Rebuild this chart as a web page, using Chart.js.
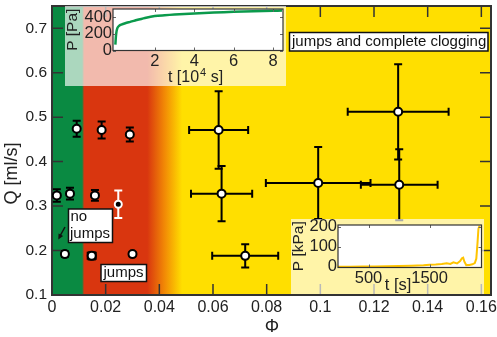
<!DOCTYPE html>
<html><head><meta charset="utf-8">
<script src="https://cdn.jsdelivr.net/npm/chart.js@4.4.0/dist/chart.umd.min.js"></script>
<style>
html,body{margin:0;padding:0;background:#fff;}
#wrap{position:relative;width:497px;height:337px;overflow:hidden;}
canvas{position:absolute;}
</style></head><body>
<div id="wrap">
<canvas id="main" width="497" height="337" style="left:0;top:0"></canvas>
<canvas id="ins1" width="221" height="80" style="left:65px;top:6px"></canvas>
<canvas id="ins2" width="193" height="75" style="left:291px;top:219px"></canvas>
</div>
<script>
// ---------- data ----------
const phi    = [0.0018, 0.0067, 0.0160, 0.0048, 0.0148, 0.0300, 0.0092, 0.0185, 0.0290, 0.0621, 0.0632, 0.0720, 0.0992, 0.1294, 0.1290];
const flowQ  = [0.324,  0.328,  0.324,  0.192,  0.188,  0.192,  0.474,  0.471,  0.461,  0.471,  0.328,  0.188,  0.352,  0.348,  0.512];
const phiErr = [0,      0,      0,      0.0010, 0.0015, 0,      0,      0,      0,      0.0110, 0.0114, 0.0123, 0.0195, 0.0143, 0.0188];
const qErr   = [0.014,  0.013,  0.012,  0.004,  0.008,  0.004,  0.018,  0.019,  0.016,  0.087,  0.062,  0.026,  0.081,  0.080,  0.107];
const refPhi = [0.0247];
const refQ   = [0.304];
const refQErr = [0.031];
const xTicks = [0, 0.02, 0.04, 0.06, 0.08, 0.10, 0.12, 0.14, 0.16];
const yTicks = [0.1, 0.2, 0.3, 0.4, 0.5, 0.6, 0.7];
const regimeGreenEnd = 0.0116, regimeRedEnd = 0.0355, regimeYellowStart = 0.0485;
// inset 1: P [Pa] vs t [10^4 s]
const ins1T = [0, 0.04, 0.1, 0.2, 0.3, 0.5, 0.75, 1, 1.5, 2, 2.5, 3, 4, 5, 6, 7, 8, 8.45];
const ins1P = [70, 200, 270, 300, 312, 328, 345, 362, 392, 415, 425, 433, 447, 457, 466, 473, 479, 481];
const ins1XTicks = [2, 4, 6, 8];
const ins1YTicks = [0, 200, 400];
// inset 2: P [kPa] vs t [s]
const ins2T = [0, 200, 400, 600, 800, 1000, 1200, 1400, 1500, 1600, 1700, 1780, 1840, 1890, 1950, 2000, 2030, 2050, 2070, 2100, 2150, 2200, 2240, 2265, 2285, 2300, 2320];
const ins2P = [0, 0, 1, 1, 2, 3, 5, 7, 10, 11, 13, 17, 14, 22, 16, 28, 42, 45, 25, 8, 9, 12, 18, 40, 120, 190, 205];
const ins2XTicks = [500, 1500];
const ins2YTicks = [0, 100, 200];

const FONT = "'Liberation Sans', Arial, sans-serif";
const fmt = v => String(+(+v).toFixed(2));

function fixTicks(list){ return function(s){ s.ticks = list.map(v => ({value: v})); }; }
function zeroPad(s){ s.paddingTop = 0; s.paddingBottom = 0; s.paddingLeft = 0; s.paddingRight = 0; }

// ---------- main chart plugins ----------
const bgPlugin = {
  id: 'bg',
  beforeDraw(chart){
    const {ctx, chartArea: a, scales: {x}} = chart;
    const g = x.getPixelForValue(regimeGreenEnd), r = x.getPixelForValue(regimeRedEnd), yl = x.getPixelForValue(regimeYellowStart);
    ctx.save();
    const grad = ctx.createLinearGradient(a.left, 0, a.right, 0);
    const w = a.right - a.left;
    const f = p => Math.min(1, Math.max(0, (p - a.left) / w));
    grad.addColorStop(0, '#0a8a42');
    grad.addColorStop(f(g - 1), '#0a8a42');
    grad.addColorStop(f(g + 1), '#d9360f');
    grad.addColorStop(f(r), '#d9360f');
    grad.addColorStop(f((r + yl) / 2), '#f28a05');
    grad.addColorStop(f(yl), '#ffdf00');
    grad.addColorStop(1, '#ffdf00');
    ctx.fillStyle = grad;
    ctx.fillRect(a.left, a.top, w, a.bottom - a.top);
    ctx.restore();
  }
};
const framePlugin = {
  id: 'frame',
  beforeDatasetsDraw(chart){
    const {ctx, chartArea: a, scales: {x, y}} = chart;
    ctx.save();
    ctx.strokeStyle = '#333'; ctx.lineWidth = 1.5;
    ctx.beginPath();
    xTicks.forEach(v => { const p = x.getPixelForValue(v); ctx.moveTo(p, a.bottom); ctx.lineTo(p, a.bottom - 11); ctx.moveTo(p, a.top); ctx.lineTo(p, a.top + 11); });
    yTicks.forEach(v => { const p = y.getPixelForValue(v); ctx.moveTo(a.left, p); ctx.lineTo(a.left + 11, p); ctx.moveTo(a.right, p); ctx.lineTo(a.right - 11, p); });
    ctx.stroke();
    ctx.lineWidth = 2;
    ctx.strokeRect(a.left, a.top, a.right - a.left, a.bottom - a.top);
    ctx.restore();
  }
};
const errPlugin = {
  id: 'err',
  beforeDatasetsDraw(chart){
    const {ctx, scales: {x, y}} = chart;
    chart.data.datasets.forEach(ds => {
      ctx.save();
      ctx.strokeStyle = ds.errColor; ctx.lineWidth = 2;
      ds.data.forEach((p, i) => {
        const px = x.getPixelForValue(p.x), py = y.getPixelForValue(p.y);
        const ex = ds.errX ? ds.errX[i] : 0, ey = ds.errY ? ds.errY[i] : 0;
        ctx.beginPath();
        if (ey > 0) {
          const t = y.getPixelForValue(p.y + ey), b = y.getPixelForValue(p.y - ey);
          ctx.moveTo(px, t); ctx.lineTo(px, b);
          ctx.moveTo(px - 4, t); ctx.lineTo(px + 4, t);
          ctx.moveTo(px - 4, b); ctx.lineTo(px + 4, b);
        }
        if (ex > 0) {
          const l = x.getPixelForValue(p.x - ex), r = x.getPixelForValue(p.x + ex);
          ctx.moveTo(l, py); ctx.lineTo(r, py);
          ctx.moveTo(l, py - 4); ctx.lineTo(l, py + 4);
          ctx.moveTo(r, py - 4); ctx.lineTo(r, py + 4);
        }
        ctx.stroke();
      });
      ctx.restore();
    });
  }
};
function box(ctx, x0, y0, x1, y1){
  ctx.fillStyle = '#fff'; ctx.fillRect(x0, y0, x1 - x0, y1 - y0);
  ctx.strokeStyle = '#111'; ctx.lineWidth = 1.5; ctx.strokeRect(x0, y0, x1 - x0, y1 - y0);
}
const annoPlugin = {
  id: 'anno',
  afterDraw(chart){
    const ctx = chart.ctx;
    ctx.save();
    ctx.textBaseline = 'alphabetic'; ctx.textAlign = 'left';
    ctx.font = `15px ${FONT}`;
    box(ctx, 289.5, 32.5, 488, 51);
    ctx.fillStyle = '#111'; ctx.fillText('jumps and complete clogging', 292, 46);
    box(ctx, 68.5, 209, 112.5, 242.5);
    ctx.fillStyle = '#111'; ctx.fillText('no', 70.5, 221); ctx.fillText('jumps', 70, 237.5);
    box(ctx, 101, 264.5, 146.5, 281.5);
    ctx.fillStyle = '#111'; ctx.fillText('jumps', 103.5, 277);
    // arrow
    ctx.strokeStyle = '#111'; ctx.lineWidth = 1.5;
    ctx.beginPath(); ctx.moveTo(65, 227); ctx.lineTo(60, 236); ctx.stroke();
    const ang = Math.atan2(239.5 - 227, 58.3 - 65);
    ctx.beginPath();
    ctx.moveTo(58.3, 239.5);
    ctx.lineTo(58.3 - 6 * Math.cos(ang - 0.45), 239.5 - 6 * Math.sin(ang - 0.45));
    ctx.lineTo(58.3 - 6 * Math.cos(ang + 0.45), 239.5 - 6 * Math.sin(ang + 0.45));
    ctx.closePath(); ctx.fillStyle = '#111'; ctx.fill();
    // axis titles
    ctx.fillStyle = '#222';
    ctx.textAlign = 'center'; ctx.textBaseline = 'middle';
    ctx.font = `18px ${FONT}`;
    ctx.save(); ctx.translate(12.5, 173.5); ctx.rotate(-Math.PI / 2); ctx.fillText('Q [ml/s]', 0, 0); ctx.restore();
    ctx.font = `18px ${FONT}`;
    ctx.fillText('Φ', 272, 327);
    ctx.restore();
  }
};

new Chart(document.getElementById('main'), {
  type: 'scatter',
  data: { datasets: [
    { data: phi.map((v, i) => ({x: v, y: flowQ[i]})), errX: phiErr, errY: qErr, errColor: '#000',
      pointRadius: 4, pointBackgroundColor: '#fff', pointBorderColor: '#000', pointBorderWidth: 2 },
    { data: refPhi.map((v, i) => ({x: v, y: refQ[i]})), errY: refQErr, errColor: '#fff',
      pointRadius: 3.5, pointBackgroundColor: '#000', pointBorderColor: '#fff', pointBorderWidth: 2 }
  ]},
  options: {
    responsive: false, animation: false, devicePixelRatio: 1,
    layout: { padding: { top: 4.5, right: 6, left: 0, bottom: 0 } },
    plugins: { legend: { display: false }, tooltip: { enabled: false } },
    scales: {
      x: { type: 'linear', min: 0, max: 0.1636, grid: { display: false, drawTicks: false }, border: { display: false },
        afterBuildTicks: fixTicks(xTicks), afterFit(s){ s.height = 42; zeroPad(s); },
        ticks: { font: { family: FONT, size: 16 }, color: '#222', padding: 3, maxRotation: 0, autoSkip: false, callback: fmt } },
      y: { type: 'linear', min: 0.1, max: 0.75, grid: { display: false, drawTicks: false }, border: { display: false },
        afterBuildTicks: fixTicks(yTicks), afterFit(s){ s.width = 52; zeroPad(s); },
        ticks: { font: { family: FONT, size: 15.5 }, color: '#222', padding: 5, autoSkip: false, callback: fmt } }
    }
  },
  plugins: [bgPlugin, framePlugin, errPlugin, annoPlugin]
});

// ---------- insets ----------
function insetPlugin(xt, yt, drawTitles){
  return {
    id: 'inset',
    beforeDraw(chart){
      const {ctx, chartArea: a, width, height} = chart;
      ctx.save();
      ctx.fillStyle = 'rgba(255,255,255,0.66)'; ctx.fillRect(0, 0, width, height);
      ctx.fillStyle = '#fff'; ctx.fillRect(a.left, a.top, a.right - a.left, a.bottom - a.top);
      ctx.restore();
    },
    afterDatasetsDraw(chart){
      const {ctx, chartArea: a, scales: {x, y}} = chart;
      ctx.save();
      ctx.strokeStyle = '#666'; ctx.lineWidth = 1;
      ctx.beginPath();
      xt.forEach(v => { const p = Math.round(x.getPixelForValue(v)) + 0.5; ctx.moveTo(p, a.bottom); ctx.lineTo(p, a.bottom - 3); ctx.moveTo(p, a.top); ctx.lineTo(p, a.top + 3); });
      yt.forEach(v => { const p = Math.round(y.getPixelForValue(v)) + 0.5; ctx.moveTo(a.left, p); ctx.lineTo(a.left + 3, p); ctx.moveTo(a.right, p); ctx.lineTo(a.right - 3, p); });
      ctx.stroke();
      ctx.strokeStyle = '#333'; ctx.lineWidth = 1.2;
      ctx.strokeRect(a.left, a.top, a.right - a.left, a.bottom - a.top);
      ctx.restore();
    },
    afterDraw(chart){ const ctx = chart.ctx; ctx.save(); ctx.fillStyle = '#222'; drawTitles(ctx, chart); ctx.restore(); }
  };
}
function insetOptions(xmin, xmax, ymin, ymax, xt, yt, yW, xH, pad){
  return {
    responsive: false, animation: false, devicePixelRatio: 1,
    layout: { padding: pad },
    plugins: { legend: { display: false }, tooltip: { enabled: false } },
    elements: { point: { radius: 0 } },
    scales: {
      x: { type: 'linear', min: xmin, max: xmax, grid: { display: false, drawTicks: false }, border: { display: false },
        afterBuildTicks: fixTicks(xt), afterFit(s){ s.height = xH; zeroPad(s); },
        ticks: { font: { family: FONT, size: 16.5 }, color: '#222', padding: 1, maxRotation: 0, autoSkip: false, callback: v => String(v) } },
      y: { type: 'linear', min: ymin, max: ymax, grid: { display: false, drawTicks: false }, border: { display: false },
        afterBuildTicks: fixTicks(yt), afterFit(s){ s.width = yW; zeroPad(s); },
        ticks: { font: { family: FONT, size: 16.5 }, color: '#222', padding: 1, autoSkip: false, callback: v => String(v) } }
    }
  };
}

new Chart(document.getElementById('ins1'), {
  type: 'line',
  data: { datasets: [{ data: ins1T.map((t, i) => ({x: t, y: ins1P[i]})), borderColor: '#0b9a4c', borderWidth: 2.5, tension: 0.3, fill: false }] },
  options: insetOptions(-0.12, 8.5, 0, 500, ins1XTicks, ins1YTicks, 48, 35.5, { top: 3, right: 3, left: 0, bottom: 0 }),
  plugins: [insetPlugin(ins1XTicks, ins1YTicks, (ctx, chart) => {
    const a = chart.chartArea;
    ctx.font = `15.5px ${FONT}`; ctx.textBaseline = 'middle'; ctx.textAlign = 'center';
    ctx.save(); ctx.translate(8, (a.top + a.bottom) / 2); ctx.rotate(-Math.PI / 2); ctx.fillText('P [Pa]', 0, 0); ctx.restore();
    // t [10^4 s] with superscript
    const cx = (a.left + a.right) / 2 - 3, cy = 71;
    ctx.textAlign = 'left'; ctx.textBaseline = 'alphabetic';
    const f1 = `16px ${FONT}`, f2 = `11px ${FONT}`;
    ctx.font = f1; const w1 = ctx.measureText('t [10').width; const w3 = ctx.measureText(' s]').width;
    ctx.font = f2; const w2 = ctx.measureText('4').width;
    let x0 = cx - (w1 + w2 + w3) / 2;
    ctx.font = f1; ctx.fillText('t [10', x0, cy + 5);
    ctx.font = f2; ctx.fillText('4', x0 + w1 + 1, cy - 1);
    ctx.font = f1; ctx.fillText(' s]', x0 + w1 + w2 + 1, cy + 5);
  })]
});

new Chart(document.getElementById('ins2'), {
  type: 'line',
  data: { datasets: [{ data: ins2T.map((t, i) => ({x: t, y: ins2P[i]})), borderColor: '#ffc400', borderWidth: 2, tension: 0, fill: false }] },
  options: insetOptions(0, 2350, -4, 208, ins2XTicks, ins2YTicks, 47, 26.5, { top: 6, right: 2.5, left: 0, bottom: 0 }),
  plugins: [insetPlugin(ins2XTicks, ins2YTicks, (ctx, chart) => {
    const a = chart.chartArea;
    ctx.font = `15.5px ${FONT}`; ctx.textBaseline = 'middle'; ctx.textAlign = 'center';
    ctx.save(); ctx.translate(8, (a.top + a.bottom) / 2); ctx.rotate(-Math.PI / 2); ctx.fillText('P [kPa]', 0, 0); ctx.restore();
    ctx.font = `16.5px ${FONT}`;
    ctx.fillText('t [s]', 107, 66);
  })]
});
</script>
</body></html>
